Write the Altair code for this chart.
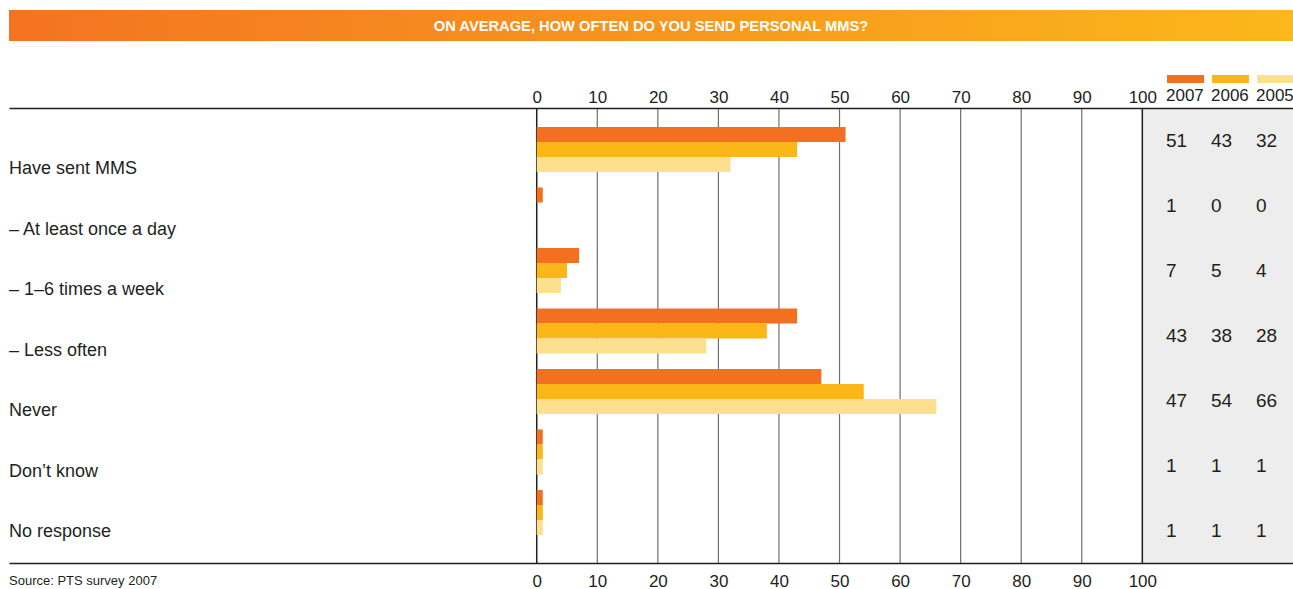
import altair as alt
import pandas as pd

# Survey answers, percent of respondents
categories = [
    "Have sent MMS",
    "– At least once a day",
    "– 1–6 times a week",
    "– Less often",
    "Never",
    "Don’t know",
    "No response",
]
years = ["2007", "2006", "2005"]
share_2007 = [51, 1, 7, 43, 47, 1, 1]
share_2006 = [43, 0, 5, 38, 54, 1, 1]
share_2005 = [32, 0, 4, 28, 66, 1, 1]
tick_values = [0, 10, 20, 30, 40, 50, 60, 70, 80, 90, 100]
year_colors = ["#F37021", "#FBB617", "#FDE08E"]

title_text = "ON AVERAGE, HOW OFTEN DO YOU SEND PERSONAL MMS?"
source_text = "Source: PTS survey 2007"

FONT = "Liberation Sans"
INK = "#231F20"

rows = []
for yr, vals in zip(years, [share_2007, share_2006, share_2005]):
    for cat, v in zip(categories, vals):
        rows.append({"cat": cat, "year": yr, "value": v})
df = pd.DataFrame(rows)
df_cats = pd.DataFrame({"cat": categories})
one = pd.DataFrame({"k": [0]})

W, H = 1284, 455
# x domain extends left for the label column and right for the figures panel
X_MIN, X_MAX = -87.14, 124.88
xscale = alt.Scale(domain=[X_MIN, X_MAX], nice=False, zero=False)
yband = alt.Scale(type="band", domain=categories, paddingInner=0.2562,
                  paddingOuter=0.3885, align=0.404)
yeven = alt.Scale(type="band", domain=categories, paddingInner=0, paddingOuter=0)
cscale = alt.Scale(domain=years, range=year_colors)

top_axis = alt.Axis(
    orient="top", values=tick_values, ticks=False, tickSize=0, grid=False,
    domain=True, domainColor=INK, domainWidth=1.5, labelFont=FONT,
    labelFontSize=17, labelColor=INK, labelPadding=6, labelBaseline="alphabetic",
    title=None, zindex=1,
)
bottom_axis = alt.Axis(
    orient="bottom", values=tick_values, ticks=False, tickSize=0, grid=False,
    domain=True, domainColor=INK, domainWidth=1.5, labelFont=FONT,
    labelFontSize=17, labelColor=INK, labelPadding=23, labelBaseline="alphabetic",
    title=None, zindex=1,
)

# grey panel holding the figures
panel = alt.Chart(one).mark_rect(color="#EDEDED").encode(
    x=alt.X(datum=100, scale=xscale, axis=top_axis),
    x2=alt.X2(datum=X_MAX),
    y=alt.value(0),
    y2=alt.value("height"),
)

grid = alt.Chart(pd.DataFrame({"t": tick_values[1:-1]})).mark_rule(
    color="#707070", strokeWidth=1.2
).encode(x=alt.X("t:Q", scale=xscale, axis=None))

edges = alt.Chart(pd.DataFrame({"t": [tick_values[0], tick_values[-1]]})).mark_rule(
    color=INK, strokeWidth=1.5
).encode(x=alt.X("t:Q", scale=xscale, axis=bottom_axis))

bars = alt.Chart(df).mark_bar().encode(
    x=alt.X("value:Q", scale=xscale, axis=None),
    y=alt.Y("cat:N", scale=yband, axis=None),
    yOffset=alt.YOffset("year:N", scale=alt.Scale(domain=years, paddingInner=0, paddingOuter=0)),
    color=alt.Color("year:N", scale=cscale, legend=None),
)

labels = alt.Chart(df_cats).mark_text(
    align="left", baseline="alphabetic", dy=25, font=FONT, fontSize=18, color=INK
).encode(
    x=alt.value(0),
    y=alt.Y("cat:N", scale=yband, axis=None),
    text="cat:N",
)

layers = [panel, grid, edges, bars, labels]

for i, yr in enumerate(years):
    sub = df[df["year"] == yr]
    figs = alt.Chart(sub).mark_text(
        align="left", baseline="middle", font=FONT, fontSize=19, color=INK
    ).encode(
        x=alt.value(1157 + 45 * i),
        y=alt.Y("cat:N", scale=yeven, axis=None),
        text="value:Q",
    )
    swatch = alt.Chart(pd.DataFrame({"year": [yr]})).mark_rect().encode(
        x=alt.value(1158 + 45 * i),
        x2=alt.value(1195 + 45 * i),
        y=alt.value(-33),
        y2=alt.value(-25),
        color=alt.Color("year:N", scale=cscale, legend=None),
    )
    swatch_label = alt.Chart(pd.DataFrame({"year": [yr]})).mark_text(
        align="left", baseline="alphabetic", font=FONT, fontSize=17, color=INK
    ).encode(
        x=alt.value(1157 + 45 * i),
        y=alt.value(-7),
        text="year:N",
    )
    layers += [figs, swatch, swatch_label]

banner = alt.Chart(one).mark_rect(
    color=alt.Gradient(
        gradient="linear",
        stops=[
            alt.GradientStop(color="#F47321", offset=0),
            alt.GradientStop(color="#FBB81A", offset=1),
        ],
        x1=0, x2=1, y1=0, y2=0,
    )
).encode(
    x=alt.value(0), x2=alt.value("width"), y=alt.value(-98), y2=alt.value(-67)
)

banner_text = alt.Chart(one).mark_text(
    align="center", baseline="middle", font=FONT, fontSize=14.7, fontWeight="bold",
    color="#FFFFFF", text=title_text,
).encode(x=alt.value(642), y=alt.value(-81))

source = alt.Chart(one).mark_text(
    align="left", baseline="alphabetic", font=FONT, fontSize=13, color=INK,
    text=source_text,
).encode(x=alt.value(0), y=alt.value(H + 22))

layers += [banner, banner_text, source]

chart = (
    alt.layer(*layers)
    .resolve_scale(y="independent")
    .resolve_axis(x="independent")
    .properties(
        width=W,
        height=H,
        padding={"left": 9, "top": 108, "right": 0, "bottom": 26},
        autosize=alt.AutoSizeParams(type="none"),
        background="#FFFFFF",
    )
    .configure_view(strokeWidth=0)
)

chart.save("out.html", embed_options={"renderer": "svg", "actions": False})
